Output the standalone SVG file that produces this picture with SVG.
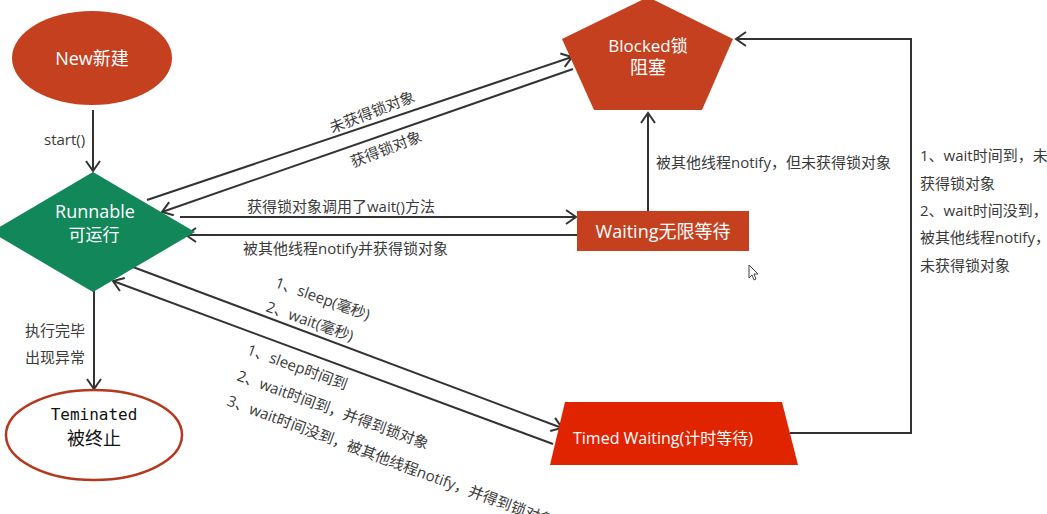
<svg xmlns="http://www.w3.org/2000/svg" width="1047" height="514" viewBox="0 0 1047 514">
<defs>
<marker id="arr" markerUnits="userSpaceOnUse" markerWidth="14" markerHeight="16" refX="11" refY="8" orient="auto">
<path d="M1,1 L11,8 L1,15" fill="none" stroke="#333" stroke-width="2"/>
</marker>
<style>
.ln{fill:none;stroke:#333;stroke-width:2;marker-end:url(#arr)}
.lbl{font-family:"Open Sans","Noto Sans CJK SC",sans-serif;font-size:15px;fill:#3a3a3a}
.nt{font-family:"Open Sans","Noto Sans CJK SC",sans-serif;fill:#fff;text-anchor:middle}
.red{fill:#c4401f}
</style>
</defs>
<rect width="1047" height="514" fill="#fff"/>

<g id="connectors">
<line class="ln" x1="93" y1="110" x2="93" y2="171"/>
<line class="ln" x1="94" y1="291" x2="94" y2="389"/>
<line class="ln" x1="147" y1="200" x2="572" y2="57"/>
<line class="ln" x1="573" y1="69" x2="162" y2="212"/>
<line class="ln" x1="180" y1="217" x2="576" y2="217"/>
<line class="ln" x1="577" y1="235" x2="186" y2="235"/>
<line class="ln" x1="648" y1="211" x2="648" y2="113"/>
<line class="ln" x1="133" y1="267" x2="562" y2="428"/>
<line class="ln" x1="553" y1="444" x2="113" y2="281"/>
<polyline class="ln" points="790,433 911,433 911,39 736,39"/>
</g>

<g id="labels">
<text class="lbl" x="44" y="145" font-size="14">start()</text>
<text class="lbl" x="25" y="336">执行完毕</text>
<text class="lbl" x="25" y="363">出现异常</text>
<text class="lbl" text-anchor="middle" transform="translate(374,117) rotate(-21)">未获得锁对象</text>
<text class="lbl" text-anchor="middle" transform="translate(388,154) rotate(-21)">获得锁对象</text>
<text class="lbl" x="247" y="212">获得锁对象调用了wait()方法</text>
<text class="lbl" x="243" y="254">被其他线程notify并获得锁对象</text>
<text class="lbl" x="656" y="168">被其他线程notify，但未获得锁对象</text>
<text class="lbl" x="920" y="161">1、wait时间到，未</text>
<text class="lbl" x="920" y="189">获得锁对象</text>
<text class="lbl" x="920" y="216">2、wait时间没到，</text>
<text class="lbl" x="920" y="243">被其他线程notify，</text>
<text class="lbl" x="920" y="271">未获得锁对象</text>
<text class="lbl" transform="translate(274,287) rotate(19.5)">1、sleep(毫秒)</text>
<text class="lbl" transform="translate(265,311) rotate(19.5)">2、wait(毫秒)</text>
<text class="lbl" transform="translate(246,354) rotate(20)">1、sleep时间到</text>
<text class="lbl" transform="translate(236,380) rotate(20)">2、wait时间到，并得到锁对象</text>
<text class="lbl" transform="translate(226,405) rotate(20.5)">3、wait时间没到，被其他线程notify，并得到锁对象</text>
</g>

<g id="new">
<ellipse class="red" cx="92" cy="58" rx="80" ry="47"/>
<text class="nt" x="92" y="65" font-size="18">New新建</text>
</g>

<g id="runnable">
<polygon points="93,172 195,232 93,292 -9,232" fill="#12875a"/>
<text class="nt" x="95" y="218" font-size="18">Runnable</text>
<text class="nt" x="94" y="241" font-size="17">可运行</text>
</g>

<g id="terminated">
<ellipse cx="94" cy="435" rx="88" ry="45" fill="#fff" stroke="#b5391f" stroke-width="2.5"/>
<text x="94" y="420" text-anchor="middle" font-family="'DejaVu Sans Mono',monospace" font-size="16" fill="#111">Teminated</text>
<text x="94" y="445" text-anchor="middle" font-family="'Noto Sans CJK SC',sans-serif" font-size="18" fill="#111">被终止</text>
</g>

<g id="blocked">
<polygon class="red" points="648,-3 733,39 702,110 594,110 562,39"/>
<text class="nt" x="648" y="52" font-size="17">Blocked锁</text>
<text class="nt" x="648" y="74" font-size="18">阻塞</text>
</g>

<g id="waiting">
<rect class="red" x="577" y="211" width="172" height="40"/>
<text class="nt" x="663" y="238" font-size="18">Waiting无限等待</text>
</g>

<g id="timed">
<polygon points="565,402 782,402 798,465 550,465" fill="#e02400"/>
<text class="nt" x="663" y="444" font-size="16">Timed Waiting(计时等待)</text>
</g>

<g id="cursor">
<polygon points="749,265 749,278 752,275 754,280 756,279 754,274 758,274" fill="#fff" stroke="#444" stroke-width="1"/>
</g>
</svg>
